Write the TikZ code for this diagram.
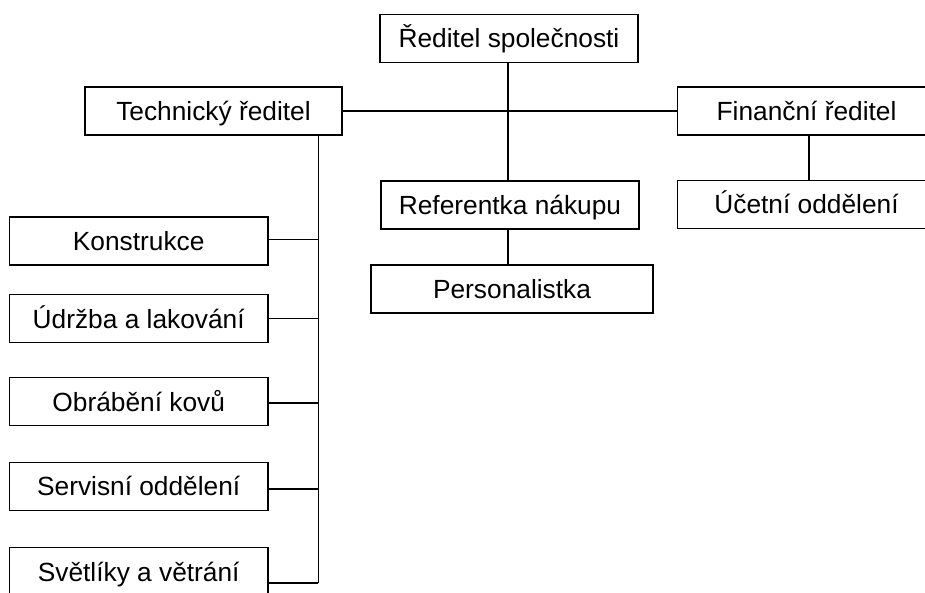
\documentclass[tikz,border=0pt]{standalone}
\usepackage{fontspec}
\setmainfont{Liberation Sans}
\usetikzlibrary{shapes}

\begin{document}
\begin{tikzpicture}[x=1pt,y=-1pt]
	\tikzstyle{every node}+=[inner sep=0pt]
	\tikzstyle{unit}=[draw=black,line width=1.3pt,fill=white,minimum width=258pt,minimum height=48pt,text height=18.8pt,text depth=0pt,font=\fontsize{26.3}{31}\selectfont]
	\path[use as bounding box,clip] (0,0) rectangle (925,592);
	% top level
	\node [unit] (ceo) at (509,38.5) {Ředitel společnosti};
	\node [unit,minimum width=257pt] (tech) at (213.5,111) {Technický ředitel};
	\node [unit] (fin) at (806.5,111) {Finanční ředitel};
	\node [unit] (ucet) at (806.5,204.3) {Účetní oddělení};
	\node [unit] (ref) at (510,205) {Referentka nákupu};
	\node [unit,minimum width=282pt] (pers) at (512,289) {Personalistka};
	% technical departments
	\node [unit,minimum width=258.7pt] (kon) at (138.7,241) {Konstrukce};
	\node [unit,minimum width=258.7pt] (udr) at (138.7,318.8) {Údržba a lakování};
	\node [unit,minimum width=258.7pt] (obr) at (138.7,401.8) {Obrábění kovů};
	\node [unit,minimum width=258.7pt] (ser) at (138.7,486.5) {Servisní oddělení};
	\node [unit,minimum width=258.7pt] (sve) at (138.7,571.8) {Světlíky a větrání};
	\coordinate (trunk) at (318.3,582.7);
	\begin{scope}[line width=1.6pt]
	\draw (tech.east) -- (fin.west);
	\draw ([xshift=-1.3pt]ceo.south) -- ([xshift=-1.3pt]ceo.south |- ref.north);
	\draw ([xshift=-1.3pt]ceo.south |- ref.south) -- ([xshift=-1.3pt]ceo.south |- pers.north);
	\draw ([xshift=2.5pt]fin.south) -- ([xshift=2.5pt]fin.south |- ucet.north);
	\draw (tech.south -| trunk) -- (trunk);
	\foreach \n/\dy in {kon/1.7,udr/0.5,obr/-0.9,ser/-2.5,sve/-10.9}
		\draw ([yshift=\dy pt]\n.east) -- ([yshift=\dy pt]\n.east -| trunk);
	\end{scope}
\end{tikzpicture}
\end{document}
